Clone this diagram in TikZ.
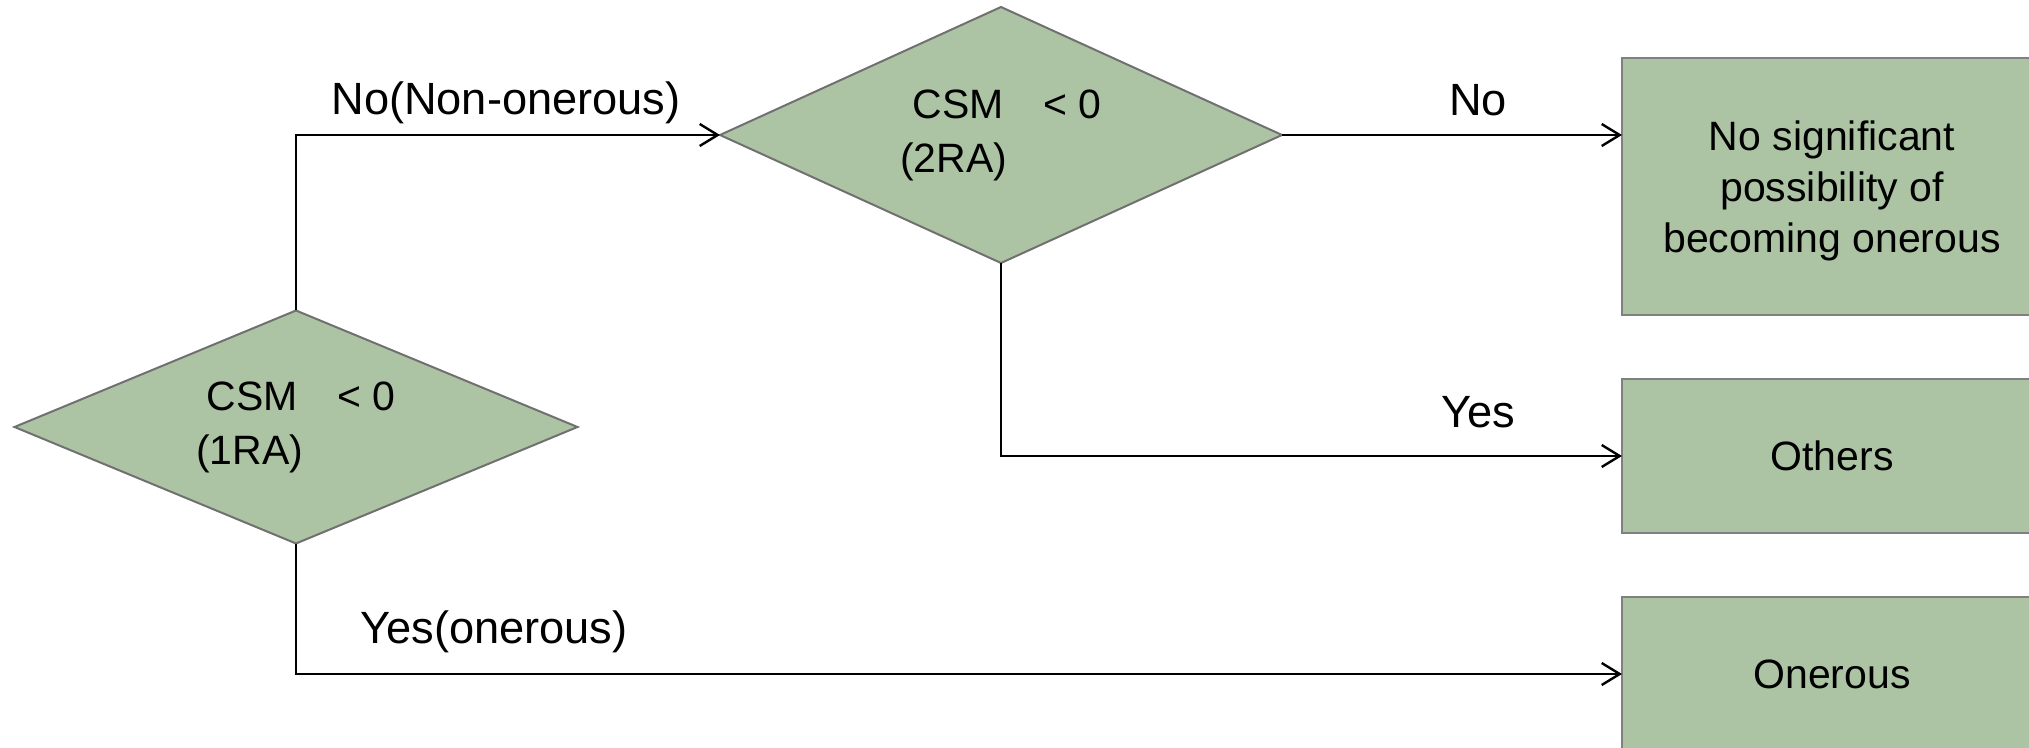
\documentclass[tikz,border=0pt]{standalone}
\usepackage{fontspec}
\setmainfont{Liberation Sans}
\usetikzlibrary{shapes.geometric,arrows.meta}

\definecolor{sage}{RGB}{173,196,164}
\definecolor{edgegrey}{RGB}{112,112,112}
\definecolor{boxgrey}{RGB}{128,128,128}

\tikzset{
  decision/.style={shape=diamond, draw=edgegrey, fill=sage, line width=1pt,
    inner sep=0pt, outer sep=0pt, align=left,
    font=\fontsize{20.5}{27}\selectfont},
  outcome/.style={rectangle, draw=boxgrey, fill=sage, line width=1.4pt,
    inner sep=0pt, outer sep=0pt, align=center, minimum width=210pt,
    font=\fontsize{20.5}{25.5}\selectfont},
  boxtext/.style={inner sep=0pt, align=center,
    font=\fontsize{20.5}{25.5}\selectfont},
  conn/.style={draw=black, line width=1.2pt,
    -{Straight Barb[length=9pt,width=11pt,line width=1.2pt]}},
  edgelabel/.style={anchor=base, inner sep=0pt, font=\fontsize{22.6}{27}\selectfont}
}

\begin{document}
\begin{tikzpicture}[x=0.5pt, y=-0.5pt]
  \useasboundingbox (0,0) rectangle (2029,748);
  \clip (0,0) rectangle (2029,748);

  % decisions
  \node[decision, shape aspect=2.42, minimum width=281.5pt, minimum height=116.5pt]
    (d1) at (296,427) {\hspace*{0.25em}CSM\hspace{0.7em} < 0\\(1RA)};
  \node[decision, shape aspect=2.2, minimum width=281pt, minimum height=128pt]
    (d2) at (1001,135) {\hspace*{0.3em}CSM\hspace{0.7em} < 0\\(2RA)};

  % outcomes (run past the right and bottom edges)
  \node[outcome, minimum height=128.5pt] (b1) at (1832,186.5) {};
  \node[boxtext] (b1text) at (1832,191) {No significant\\possibility of\\becoming onerous};
  \node[outcome, minimum height=77pt] (b2) at (1832,456) {Others};
  \node[outcome, minimum height=77pt] (b3) at (1832,674) {Onerous};

  % connectors
  \draw[conn] (d1.north) |- (d2.west);
  \draw[conn] (d2.east) -- (d2.east -| b1.west);
  \draw[conn] (d2.south) |- (b2.west);
  \draw[conn] (d1.south) |- (b3.west);

  % branch labels
  \node[edgelabel] (lnon) at (506,115) {No(Non-onerous)};
  \node[edgelabel] (lno)  at (1478,116) {No};
  \node[edgelabel] (lyes) at (1478,428) {Yes};
  \node[edgelabel] (lon)  at (494,643) {Yes(onerous)};
\end{tikzpicture}
\end{document}
